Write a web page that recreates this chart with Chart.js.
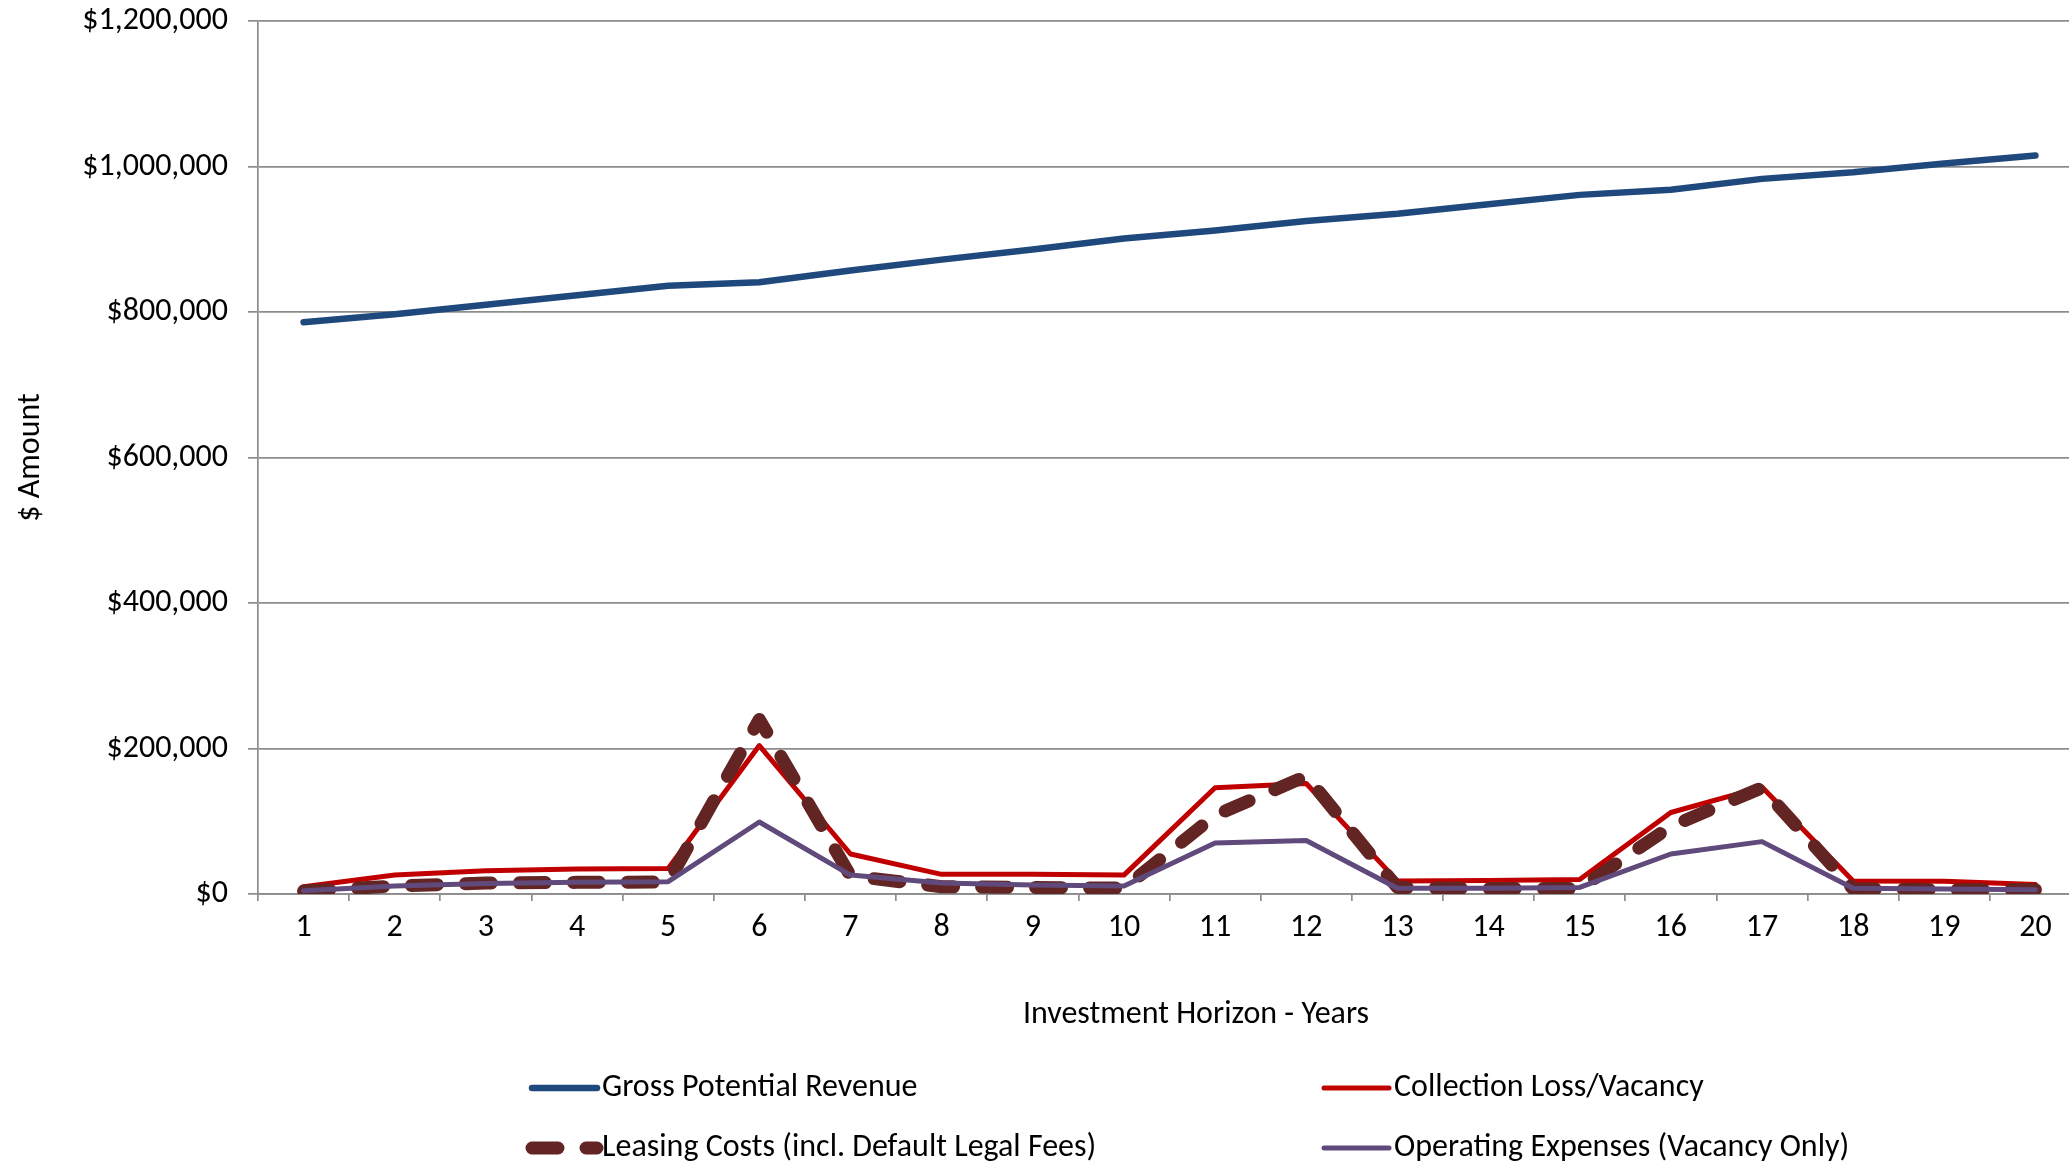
<!DOCTYPE html>
<html>
<head>
<meta charset="utf-8">
<script src="https://cdn.jsdelivr.net/npm/chart.js@4"></script>
<style>
  html, body { margin: 0; padding: 0; background: #fff; overflow: hidden; }
  #wrap { position: relative; width: 2081px; height: 1165px; }
</style>
</head>
<body>
<div id="wrap"><canvas id="c"></canvas></div>
<script>
// Investment horizon (years) and annual amounts per series
const years = ['1','2','3','4','5','6','7','8','9','10','11','12','13','14','15','16','17','18','19','20'];

const grossRevenue = [786000, 797000, 810000, 823000, 836000, 841000, 857000, 872000, 886000, 901000,
                      912000, 925000, 935000, 948000, 961000, 968000, 983000, 992000, 1004000, 1015000];

const collectionLoss = [10000, 26000, 32000, 34500, 35000, 204000, 55000, 27000, 27000, 26000,
                        146000, 152000, 18000, 18500, 20000, 112000, 147000, 18000, 17500, 13000];

const leasingCosts = [4000, 11000, 15000, 16000, 16500, 240000, 25000, 10000, 9000, 8000,
                      108000, 162000, 9000, 7500, 7500, 93000, 146000, 7000, 6000, 6000];

const operatingExpenses = [4500, 11000, 14500, 16000, 17000, 99000, 26000, 15000, 12500, 11000,
                           70000, 73500, 8000, 8000, 9000, 55000, 72000, 8000, 7000, 6000];

const seriesNames = ['Gross Potential Revenue', 'Collection Loss/Vacancy',
                     'Leasing Costs (incl. Default Legal Fees)', 'Operating Expenses (Vacancy Only)'];

const yTicks = { min: 0, max: 1200000, step: 200000 };
const xAxisTitle = 'Investment Horizon - Years';
const yAxisTitle = '$ Amount';

const FONT = 'Carlito, Calibri, Lato, sans-serif';
const TEXT = '#000000';
const GRID = '#8c8c8c';
const FS = 32;

// Two-column legend under the plot
const gridLegend = {
  id: 'gridLegend',
  afterDraw(chart) {
    const ctx = chart.ctx;
    const cols = [528, 1320];
    const rows = [1088, 1148];
    ctx.save();
    chart.data.datasets.forEach((ds, i) => {
      const x0 = cols[i % 2];
      const y = rows[Math.floor(i / 2)];
      ctx.beginPath();
      ctx.strokeStyle = ds.borderColor;
      ctx.lineWidth = ds.borderWidth;
      ctx.lineCap = 'round';
      ctx.setLineDash(ds.borderDash || []);
      ctx.moveTo(x0 + 4, y);
      ctx.lineTo(x0 + 69, y);
      ctx.stroke();
      ctx.setLineDash([]);
      ctx.fillStyle = TEXT;
      ctx.font = FS + 'px ' + FONT;
      ctx.textAlign = 'left';
      ctx.textBaseline = 'middle';
      ctx.fillText(ds.label, x0 + 74, y);
    });
    ctx.restore();
  }
};

// Horizontal axis title
const xTitle = {
  id: 'xTitle',
  afterDraw(chart) {
    const ctx = chart.ctx;
    ctx.save();
    ctx.fillStyle = TEXT;
    ctx.font = FS + 'px ' + FONT;
    ctx.textAlign = 'center';
    ctx.textBaseline = 'middle';
    ctx.fillText(xAxisTitle, 1196, 1015);
    ctx.restore();
  }
};

new Chart(document.getElementById('c'), {
  type: 'line',
  data: {
    labels: years,
    datasets: [
      { label: seriesNames[0], data: grossRevenue, borderColor: '#1F497D', borderWidth: 6.5, order: 3 },
      { label: seriesNames[1], data: collectionLoss, borderColor: '#C00000', borderWidth: 5, order: 2 },
      { label: seriesNames[2], data: leasingCosts, borderColor: '#632523', borderWidth: 13,
        borderDash: [26, 28], order: 1 },
      { label: seriesNames[3], data: operatingExpenses, borderColor: '#604A7B', borderWidth: 5, order: 0 }
    ]
  },
  options: {
    responsive: true,
    maintainAspectRatio: false,
    animation: false,
    devicePixelRatio: 1,
    layout: { padding: { top: 0, left: 0, right: 0, bottom: 0 } },
    elements: {
      point: { radius: 0, hoverRadius: 0 },
      line: { tension: 0, fill: false, borderCapStyle: 'round', borderJoinStyle: 'round' }
    },
    plugins: { legend: { display: false }, tooltip: { enabled: false } },
    scales: {
      x: {
        offset: true,
        grid: { offset: true, drawOnChartArea: false, drawTicks: true, tickLength: 7, color: GRID, lineWidth: 1.7 },
        border: { color: GRID, width: 1.7 },
        ticks: { color: TEXT, font: { family: FONT, size: FS }, padding: 8, maxRotation: 0, autoSkip: false },
        afterFit(scale) { scale.height = 1165 - 894; }
      },
      y: {
        min: yTicks.min,
        max: yTicks.max,
        ticks: {
          stepSize: yTicks.step,
          color: TEXT,
          font: { family: FONT, size: FS },
          padding: 20,
          callback: v => '$' + Number(v).toLocaleString('en-US')
        },
        grid: { color: GRID, lineWidth: 1.7, tickLength: 10 },
        border: { color: GRID, width: 1.7 },
        title: { display: true, text: yAxisTitle, color: TEXT, font: { family: FONT, size: FS }, padding: { top: 12, bottom: 0 } },
        afterFit(scale) {
          scale.width = 258;
          scale.paddingTop = 21;
        }
      }
    }
  },
  plugins: [gridLegend, xTitle]
});
</script>
</body>
</html>
